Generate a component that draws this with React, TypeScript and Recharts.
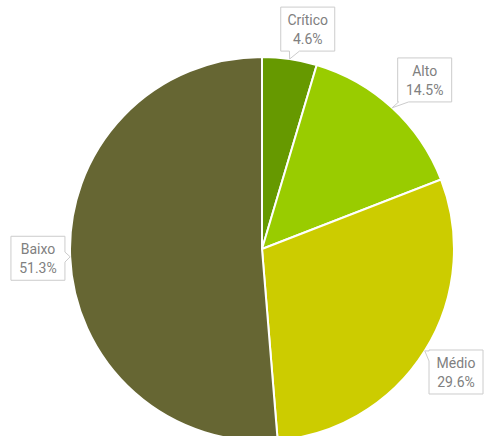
import { Cell, Pie, PieChart } from "recharts";

const LEVELS = ["Crítico", "Alto", "Médio", "Baixo"];
const SHARES = [4.6, 14.5, 29.6, 51.3];
const COLORS = ["#669900", "#99cc00", "#cccc00", "#666633"];

const DATA = LEVELS.map((name, i) => ({ name, value: SHARES[i] }));

const W = 484;
const H = 436;
const RAD = Math.PI / 180;
const BOX_W = 54;
const BOX_H = 44;
const GAP = 8;

function Callout(props: any) {
  const { cx, cy, midAngle, outerRadius, percent, name } = props;
  const dx = Math.cos(-midAngle * RAD);
  const dy = Math.sin(-midAngle * RAD);
  const tx = cx + outerRadius * dx;
  const ty = cy + outerRadius * dy;
  const hw = BOX_W / 2;
  const hh = BOX_H / 2;
  const t = Math.min(Math.abs(dx) > 1e-6 ? hw / Math.abs(dx) : 1e9, Math.abs(dy) > 1e-6 ? hh / Math.abs(dy) : 1e9);
  const gapX = GAP * (0.6 + 0.4 * Math.abs(dy));
  let bx = tx + dx * t + Math.sign(dx) * (gapX + 7 * Math.abs(dy));
  const by = ty + dy * (t + GAP);
  // keep the box on the page
  bx = Math.min(W - 1 - hw, Math.max(1 + hw, bx));
  const left = bx - hw;
  const right = bx + hw;
  const top = by - hh;
  const bottom = by + hh;
  // side the pointer leaves from
  const rx = (tx - bx) / hw;
  const ry = (ty - by) / hh;
  const side = Math.abs(ry) >= Math.abs(rx) ? (ry < 0 ? "top" : "bottom") : rx > 0 ? "right" : "left";
  const px = Math.max(left + 6, Math.min(right - 6, bx + (tx - bx) * (hh / Math.abs(ty - by || 1))));
  const py = Math.max(top + 6, Math.min(bottom - 6, by + (ty - by) * (hw / Math.abs(tx - bx || 1))));
  const pts: [number, number][] = [[left, top]];
  if (side === "top") pts.push([px - 5, top], [tx, ty], [px + 5, top]);
  pts.push([right, top]);
  if (side === "right") pts.push([right, py - 5], [tx, ty], [right, py + 5]);
  pts.push([right, bottom]);
  if (side === "bottom") pts.push([px + 5, bottom], [tx, ty], [px - 5, bottom]);
  pts.push([left, bottom]);
  if (side === "left") pts.push([left, py + 5], [tx, ty], [left, py - 5]);
  const d = pts.map((p, i) => `${i ? "L" : "M"}${p[0]},${p[1]}`).join(" ") + " Z";

  return (
    <g>
      <path d={d} fill="#ffffff" stroke="#cccccc" strokeWidth={1} />
      <text x={bx} y={by - 9} textAnchor="middle" dominantBaseline="central" fill="#808080" fontSize={14}>
        {name}
      </text>
      <text x={bx} y={by + 10} textAnchor="middle" dominantBaseline="central" fill="#808080" fontSize={14}>
        {`${(percent * 100).toFixed(1)}%`}
      </text>
    </g>
  );
}

export default function App() {
  return (
    <div style={{ position: "absolute", left: 0, top: 0, fontFamily: "Roboto, sans-serif" }}>
      <PieChart width={W} height={H} margin={{ top: 0, right: 0, bottom: 0, left: 0 }}>
        <Pie
          data={DATA}
          dataKey="value"
          nameKey="name"
          cx={262}
          cy={249}
          outerRadius={192}
          startAngle={90}
          endAngle={-270}
          stroke="#ffffff"
          strokeWidth={2}
          label={Callout}
          labelLine={false}
          isAnimationActive={false}
        >
          {DATA.map((d, i) => (
            <Cell key={d.name} fill={COLORS[i]} />
          ))}
        </Pie>
      </PieChart>
    </div>
  );
}
